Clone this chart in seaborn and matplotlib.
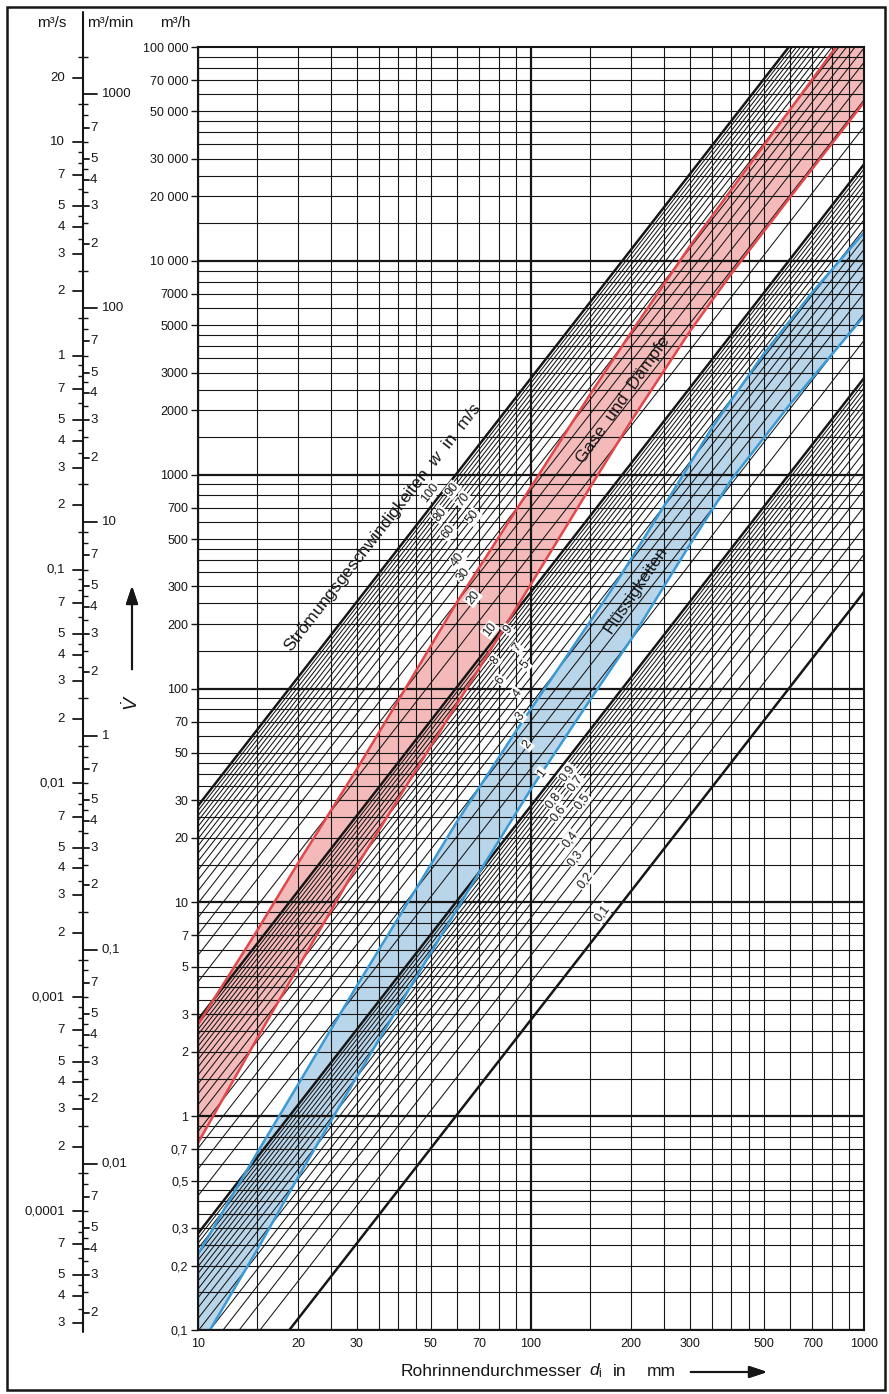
import numpy as np
import pandas as pd
import seaborn as sns
import matplotlib.pyplot as plt
from matplotlib.lines import Line2D
from matplotlib.patches import Rectangle

sns.set_theme(style="white")
plt.rcParams['font.family'] = ['Liberation Sans', 'DejaVu Sans']
plt.rcParams['mathtext.fontset'] = 'custom'
plt.rcParams['mathtext.rm'] = 'Liberation Sans'
plt.rcParams['mathtext.it'] = 'Liberation Sans:italic'

W, H = 889, 1394

# flow velocities w in m/s (lines of the nomogram)
w_thick = [100, 10, 1, 0.1]
w_thin = [95, 90, 85, 80, 75, 70, 65, 60, 55, 50, 45, 40, 35, 30, 25, 20, 15,
          9.5, 9, 8.5, 8, 7.5, 7, 6.5, 6, 5.5, 5, 4.5, 4, 3.5, 3, 2.5, 2, 1.5,
          0.95, 0.9, 0.85, 0.8, 0.75, 0.7, 0.65, 0.6, 0.55, 0.5, 0.45, 0.4,
          0.35, 0.3, 0.25, 0.2, 0.15]

# line labels and where they sit (d in mm, V in m3/h)
w_label_text = ['100', '90', '80', '70', '60', '50', '40', '30', '20',
                '10', '9', '8', '7', '6', '5', '4', '3', '2',
                '1', '0,9', '0,8', '0,7', '0,6', '0,5', '0,4', '0,3', '0,2', '0,1']
w_label_d = [49.7, 57.9, 53.3, 62.5, 56.3, 66.9, 60.4, 62.5, 66.9,
             75.3, 85.3, 78, 90.8, 80.7, 95.9, 90.8, 92.7, 97.3,
             107.9, 128.2, 116.4, 135.5, 120.5, 142.2, 130.9, 135.5, 145.2, 163.3]
w_label_v = [822, 850, 649, 762, 540, 635, 399, 340, 265,
             188, 188, 136, 155, 109.7, 129, 95.3, 74.4, 54.5,
             40.3, 40.3, 30.1, 36, 26.2, 29.5, 19.6, 16.1, 12.7, 8.92]

# band "Gase und Dämpfe" (d in mm, V in m3/h)
gas_up_d = [10, 15, 20, 30, 40, 60, 100, 150, 200, 300, 500, 824]
gas_up_v = [2.69, 7.31, 15.3, 42.0, 88.2, 254, 876, 2353, 4637, 11700, 34630, 100000]
gas_lo_d = [10, 15, 20, 30, 50, 70, 100, 150, 200, 300, 400, 600, 1000]
gas_lo_v = [0.75, 2.29, 4.98, 14.8, 53.7, 124.7, 308, 865, 1787, 4682, 8730, 19845, 55130]

# band "Flüssigkeiten"
liq_up_d = [10, 15, 20, 30, 45, 60, 90, 120, 180, 250, 350, 500, 700, 1000]
liq_up_v = [0.226, 0.668, 1.41, 4.07, 11.45, 23.9, 63.0, 122, 311, 707, 1662, 3675, 7134, 13570]
liq_lo_d = [10.86, 15, 20, 30, 50, 70, 100, 150, 200, 300, 400, 600, 1000]
liq_lo_v = [0.1, 0.235, 0.52, 1.53, 5.80, 13.85, 33.9, 87.8, 170, 471, 950, 2137, 5513]

grid_mant = [1, 1.5, 2, 2.5, 3, 3.5, 4, 4.5, 5, 6, 7, 8, 9]
xtick_vals = [10, 20, 30, 50, 70, 100, 200, 300, 500, 700, 1000]
xtick_labels = ['10', '20', '30', '50', '70', '100', '200', '300', '500', '700', '1000']
ytick_vals = [0.1, 0.2, 0.3, 0.5, 0.7, 1, 2, 3, 5, 7, 10, 20, 30, 50, 70,
              100, 200, 300, 500, 700, 1000, 2000, 3000, 5000, 7000,
              10000, 20000, 30000, 50000, 70000, 100000]
ytick_labels = ['0,1', '0,2', '0,3', '0,5', '0,7', '1', '2', '3', '5', '7',
                '10', '20', '30', '50', '70', '100', '200', '300', '500', '700',
                '1000', '2000', '3000', '5000', '7000', '10 000', '20 000',
                '30 000', '50 000', '70 000', '100 000']

label_mant = [1, 2, 3, 4, 5, 7]
minor_mant = [1.5, 2.5, 3.5, 4.5, 6, 8, 9]

XMIN, XMAX, YMIN, YMAX = 10, 1000, 0.1, 100000


def flow(w, d):
    # m3/h through a pipe of d mm at w m/s
    return w * np.pi / 4 * (d / 1000) ** 2 * 3600


def fx(x):
    return x / W


def fy(y):
    return 1 - y / H


ink = '#161616'
fig = plt.figure(figsize=(W / 100, H / 100), dpi=100)
A_L, A_R, A_T, A_B = 198, 864, 47, 1330
ax = fig.add_axes([fx(A_L), fy(A_B), (A_R - A_L) / W, (A_B - A_T) / H])
ax.set_xscale('log')
ax.set_yscale('log')
ax.set_xlim(XMIN, XMAX)
ax.set_ylim(YMIN, YMAX)

# bands
ax.fill(gas_up_d + [XMAX] + gas_lo_d[::-1], gas_up_v + [YMAX] + gas_lo_v[::-1],
        color='#f4b9b9', lw=0, zorder=1)
ax.fill([XMIN] + liq_up_d + liq_lo_d[::-1], [YMIN] + liq_up_v + liq_lo_v[::-1],
        color='#b9d5ea', lw=0, zorder=1)

# grid
for dec in [10, 100]:
    for m in grid_mant:
        ax.axvline(dec * m, color=ink, lw=1.6 if m == 1 else 0.8, zorder=2)
for dec in [0.1, 1, 10, 100, 1000, 10000]:
    for m in grid_mant:
        ax.axhline(dec * m, color=ink, lw=1.6 if m == 1 else 0.8, zorder=2)

# velocity lines
d_ends = [XMIN, XMAX]
thin_df = pd.DataFrame([(w, d, flow(w, d)) for w in w_thin for d in d_ends],
                       columns=['w', 'd', 'V'])
thick_df = pd.DataFrame([(w, d, flow(w, d)) for w in w_thick for d in d_ends],
                        columns=['w', 'd', 'V'])
sns.lineplot(data=thin_df, x='d', y='V', units='w', estimator=None,
             color=ink, lw=0.75, ax=ax, zorder=3, legend=False)
sns.lineplot(data=thick_df, x='d', y='V', units='w', estimator=None,
             color=ink, lw=1.8, ax=ax, zorder=3, legend=False)

# band edges
for bd, bv, col in [(gas_up_d, gas_up_v, '#e2474b'), (gas_lo_d, gas_lo_v, '#e2474b'),
                    (liq_up_d, liq_up_v, '#3b9ad6'), (liq_lo_d, liq_lo_v, '#3b9ad6')]:
    sns.lineplot(x=bd, y=bv, sort=False, color=col, lw=1.8, ax=ax, zorder=4)

ax.set_xlim(XMIN, XMAX)
ax.set_ylim(YMIN, YMAX)

# angle of the velocity lines on screen
p = ax.transData.transform([(10, flow(1, 10)), (1000, flow(1, 1000))])
ang = np.degrees(np.arctan2(p[1, 1] - p[0, 1], p[1, 0] - p[0, 0]))

for t, d, v in zip(w_label_text, w_label_d, w_label_v):
    ax.text(d, v, t, rotation=ang, rotation_mode='anchor', ha='center', va='center',
            fontsize=9, color=ink, zorder=5,
            bbox=dict(boxstyle='square,pad=0.06', fc='white', ec='none'))

fig.text(fx(383), fy(528), 'Strömungsgeschwindigkeiten  $w$  in  m/s', rotation=ang,
         rotation_mode='anchor', ha='center', va='center', fontsize=12.5, color=ink)
fig.text(fx(623), fy(400), 'Gase  und  Dämpfe', rotation=55, rotation_mode='anchor',
         ha='center', va='center', fontsize=12.5, color=ink, zorder=6)
fig.text(fx(636), fy(590), 'Flüssigkeiten', rotation=56, rotation_mode='anchor',
         ha='center', va='center', fontsize=12.5, color=ink, zorder=6)

# axes ticks
ax.set_xticks(xtick_vals, xtick_labels)
ax.set_yticks(ytick_vals, ytick_labels)
ax.minorticks_off()
ax.tick_params(axis='x', bottom=False, length=0, pad=6, labelsize=9, labelcolor=ink)
ax.tick_params(axis='y', left=True, length=5, width=1, pad=2, labelsize=9,
               labelcolor=ink, color=ink)
ax.set_xlabel('')
ax.set_ylabel('')
for s in ax.spines.values():
    s.set_color(ink)
    s.set_linewidth(1.5)
    s.set_zorder(6)

# left scales m3/s and m3/min
axs = fig.add_axes([0, fy(A_B), fx(A_L), (A_B - A_T) / H])
axs.set_xlim(0, A_L)
axs.set_yscale('log')
axs.set_ylim(YMIN, YMAX)
axs.axis('off')
SX = 83
fig.add_artist(Line2D([fx(SX), fx(SX)], [fy(1332), fy(12)], color=ink, lw=1.5,
                      transform=fig.transFigure))


def num_de(v):
    if v >= 1:
        return str(int(round(v)))
    return ('%.6f' % v).rstrip('0').replace('.', ',')


def scale_ticks(factor, exps):
    lab, mino = [], []
    for e in exps:
        for m in label_mant:
            v = m * 10.0 ** e
            if YMIN <= v * factor <= YMAX:
                lab.append((v, m))
        for m in minor_mant:
            v = m * 10.0 ** e
            if YMIN <= v * factor <= YMAX:
                mino.append(v)
    return lab, mino


sec_lab, sec_min = scale_ticks(3600, range(-5, 2))
for v, m in sec_lab:
    axs.plot([73, SX], [v * 3600] * 2, color=ink, lw=1.3)
    txt = num_de(v) if (m == 1 or v >= 10) else str(m)
    axs.text(65, v * 3600, txt, ha='right', va='center', fontsize=9.5, color=ink)
axs.hlines([v * 3600 for v in sec_min], 78, SX, color=ink, lw=1.0)

min_lab, min_min = scale_ticks(60, range(-3, 4))
for v, m in min_lab:
    if m == 1:
        axs.plot([SX, 97], [v * 60] * 2, color=ink, lw=1.3)
        axs.text(102, v * 60, num_de(v), ha='left', va='center', fontsize=9.5, color=ink)
    else:
        axs.plot([SX, 89], [v * 60] * 2, color=ink, lw=1.3)
        axs.text(90, v * 60, str(m), ha='left', va='center', fontsize=9.5, color=ink)
axs.hlines([v * 60 for v in min_min], SX, 88, color=ink, lw=1.0)

# headers
fig.text(fx(52), fy(23), 'm³/s', ha='center', va='center', fontsize=11, color=ink)
fig.text(fx(87), fy(23), 'm³/min', ha='left', va='center', fontsize=11, color=ink)
fig.text(fx(175), fy(23), 'm³/h', ha='center', va='center', fontsize=11, color=ink)

# V-dot with arrow
fig.text(fx(132), fy(703), r'$\dot{V}$', rotation=90, ha='center', va='center',
         fontsize=14, color=ink)
fig.add_artist(plt.annotate('', xy=(fx(132), fy(583)), xytext=(fx(132), fy(672)),
                            xycoords='figure fraction',
                            arrowprops=dict(arrowstyle='-|>,head_length=0.9,head_width=0.3',
                                            color=ink, lw=1.5)))

# x axis title with arrow
fig.text(fx(401), fy(1372), 'Rohrinnendurchmesser', ha='left', va='center',
         fontsize=12.5, color=ink)
fig.text(fx(589), fy(1371), r'$d_{\mathrm{i}}$', ha='left', va='center',
         fontsize=12.5, color=ink)
fig.text(fx(613), fy(1372), 'in', ha='left', va='center', fontsize=12.5, color=ink)
fig.text(fx(647), fy(1372), 'mm', ha='left', va='center', fontsize=12.5, color=ink)
fig.add_artist(plt.annotate('', xy=(fx(770), fy(1372)), xytext=(fx(688), fy(1372)),
                            xycoords='figure fraction',
                            arrowprops=dict(arrowstyle='-|>,head_length=0.9,head_width=0.3',
                                            color=ink, lw=1.5)))

# frame
fig.add_artist(Rectangle((fx(7), fy(1390)), (885 - 7) / W, (1390 - 7) / H,
                         transform=fig.transFigure, fill=False, lw=1.8, ec=ink))

fig.savefig('out.png', dpi=100)
